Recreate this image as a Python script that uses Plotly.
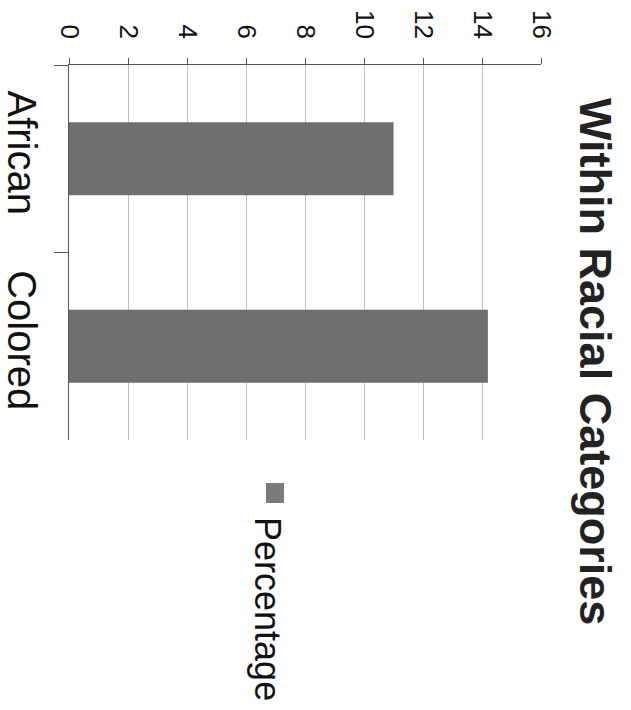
import plotly.graph_objects as go

# Share of each racial category (percent)
categories = ["African", "Colored"]
percentages = [11.0, 14.2]
series_name = "Percentage"
title_text = "Within Racial Categories"
value_ticks = [0, 2, 4, 6, 8, 10, 12, 14, 16]

FONT = "Arial, Liberation Sans, sans-serif"
BAR_COLOR = "#6f6f6f"

fig = go.Figure()
fig.add_trace(go.Bar(
    y=categories,
    x=percentages,
    orientation="h",
    name=series_name,
    marker=dict(color=BAR_COLOR, line=dict(width=0)),
    showlegend=False,
))

fig.update_layout(
    width=631,
    height=710,
    margin=dict(l=69, r=90, t=65, b=270),
    paper_bgcolor="white",
    plot_bgcolor="white",
    bargap=0.61,
    font=dict(family=FONT, color="#111111"),
    xaxis=dict(
        side="top",
        range=[0, 16],
        tickvals=value_ticks,
        ticktext=[str(v) for v in value_ticks],
        tickangle=90,
        tickfont=dict(size=26),
        ticks="outside",
        ticklen=6,
        ticklabelstandoff=10,
        tickcolor="#555555",
        showline=True,
        linecolor="#555555",
        linewidth=1,
        showgrid=True,
        gridcolor="#bdbdbd",
        gridwidth=1,
        zeroline=False,
        automargin=False,
        fixedrange=True,
    ),
    yaxis=dict(
        categoryorder="array",
        categoryarray=categories,
        autorange="reversed",
        tickangle=90,
        tickfont=dict(size=40),
        ticks="outside",
        tickson="boundaries",
        ticklen=14,
        ticklabelstandoff=12,
        tickcolor="#555555",
        showline=True,
        linecolor="#555555",
        linewidth=1,
        showgrid=False,
        zeroline=False,
        automargin=False,
        fixedrange=True,
    ),
)

# Title running down the right side
fig.add_annotation(
    text="<b>" + title_text + "</b>",
    xref="paper", yref="paper",
    x=1.1165, y=0.208,
    xanchor="center", yanchor="middle",
    textangle=90,
    showarrow=False,
    font=dict(size=45, family=FONT, color="#222222"),
)

# Legend key and label, rotated with the rest of the chart
fig.add_shape(
    type="rect",
    xref="paper", yref="paper",
    xsizemode="pixel", ysizemode="pixel",
    xanchor=0.4364, yanchor=-0.1413,
    x0=-9, x1=9, y0=-10, y1=10,
    fillcolor="#7a7a7a",
    line=dict(width=0),
)
fig.add_annotation(
    text=series_name,
    xref="paper", yref="paper",
    x=0.4216, y=-0.4507,
    xanchor="center", yanchor="middle",
    textangle=90,
    showarrow=False,
    font=dict(size=36, family=FONT, color="#111111"),
)

fig.write_html("out.html")
